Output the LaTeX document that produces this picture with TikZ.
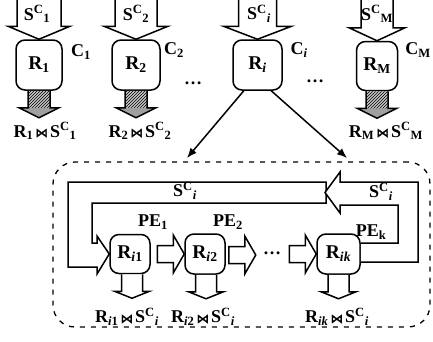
\documentclass[tikz,border=0pt]{standalone}
\usepackage{fontspec}
\setmainfont{Liberation Serif}
\newfontfamily\bowfont[FakeBold=2]{DejaVu Sans}
\usetikzlibrary{arrows.meta,patterns,calc}

% relation / stream notation
\newcommand\SCx[1]{S\textsuperscript{C}\textsubscript{#1}}
\newcommand\bow{{\bowfont\mdseries\fontsize{12.5}{12.5}\selectfont\,⋈\,}}

\tikzset{
  txt/.style={font=\bfseries\fontsize{18}{20}\selectfont, inner sep=0pt},
  rel/.style={draw, line width=1.5pt, rounded corners=9pt, inner sep=0pt,
              font=\bfseries\fontsize{19.5}{21}\selectfont},
  blk/.style={draw, line width=1.5pt, fill=white, line join=miter},
  thin arrow/.style={line width=1.5pt, -{Latex[length=10pt,width=8pt]}},
  grpbox/.style={draw, line width=1.3pt, dash pattern=on 5pt off 6pt,
                 rounded corners=22pt, inner sep=0pt},
  % incoming stream block arrow, tip at the origin
  pics/inarrow/.style 2 args={code={
    \draw[blk] (-#1,-42) -- (-#1,-13) -- (-#2,-13) -- (0,0)
               -- (#2,-13) -- (#1,-13) -- (#1,-42);}},
  % hatched result arrow, tail at the origin
  pics/outhatch/.style={code={
    \fill[gray!45] (-11,0) -- (-11,17) -- (-20,17) -- (0,27) -- (20,17) -- (11,17) -- (11,0) -- cycle;
    \fill[pattern=north east lines] (-11,0) -- (-11,17) -- (-20,17) -- (0,27) -- (20,17) -- (11,17) -- (11,0) -- cycle;
    \fill[gray!75] (-20,17) -- (0,27) -- (20,17) -- cycle;
    \draw[line width=1.5pt, line join=miter] (-11,0) -- (-11,17) -- (-20,17) -- (0,27)
               -- (20,17) -- (11,17) -- (11,0);}},
  % white result arrow, tail at the origin
  pics/outwhite/.style={code={
    \draw[blk] (-10.5,0) -- (-10.5,17) -- (-17.5,17) -- (0,24)
               -- (17.5,17) -- (10.5,17) -- (10.5,0);}},
  % pipeline block arrow, tip at the origin
  pics/pipe/.style={code={
    \draw[blk] (-27,-8.5) -- (-11,-8.5) -- (-11,-19) -- (0,0) -- (-11,19)
               -- (-11,8.5) -- (-27,8.5) -- cycle;}},
}

\begin{document}
\begin{tikzpicture}[x=1pt, y=-1pt]
\useasboundingbox (0,0) rectangle (433,341);

% ---------- clusters C_1 ... C_M ----------
\node[rel, minimum width=46pt, minimum height=50pt] (R1) at (39,65) {R\textsubscript{1}};
\node[rel, minimum width=48pt, minimum height=50pt] (R2) at (136,65) {R\textsubscript{2}};
\node[rel, minimum width=49pt, minimum height=50pt] (Ri) at (257.5,65) {R\textsubscript{\textit{i}}};
\node[rel, minimum width=41pt, minimum height=49pt] (RM) at (377,66) {R\textsubscript{M}};

\pic at (R1.north) {inarrow={22}{31}};
\pic at (R2.north) {inarrow={21}{32}};
\pic at (Ri.north) {inarrow={19}{34}};
\pic at (RM.north) {inarrow={16}{28}};

\node[txt] (s1) at (37,14) {\SCx{1}};
\node[txt] (s2) at (136,14) {\SCx{2}};
\node[txt] (si) at (259,14) {\SCx{\textit{i}}};
\node[txt] (sM) at (377,14) {\SCx{M}};

\node[txt] (c1) at (81,52) {C\textsubscript{1}};
\node[txt] (c2) at (174,50) {C\textsubscript{2}};
\node[txt] (ci) at (299,50) {C\textsubscript{\textit{i}}};
\node[txt] (cM) at (418,50) {C\textsubscript{M}};

\node[txt] (d1) at (193,83) {\dots};
\node[txt] (d2) at (315,81) {\dots};

\pic at (R1.south) {outhatch};
\pic at (R2.south) {outhatch};
\pic at (RM.south) {outhatch};

\node[txt] (o1) at (45,131) {R\textsubscript{1}\bow\SCx{1}};
\node[txt] (o2) at (140,131) {R\textsubscript{2}\bow\SCx{2}};
\node[txt] (oM) at (386,131) {R\textsubscript{M}\bow\SCx{M}};

% ---------- parallel join inside cluster C_i ----------
\node[grpbox, minimum width=377pt, minimum height=165pt] (grp) at (241.5,244.5) {};
\coordinate (inL) at (187,158);
\coordinate (inR) at (347,158);
\draw[thin arrow] (Ri.-118) -- (inL);
\draw[thin arrow] (Ri.-62) -- (inR);

\node[rel, minimum width=40pt, minimum height=39pt] (Ri1) at (130,254) {R\textsubscript{\textit{i}1}};
\node[rel, minimum width=40pt, minimum height=40pt] (Ri2) at (205,254) {R\textsubscript{\textit{i}2}};
\node[rel, minimum width=43pt, minimum height=40pt] (Rik) at (338.5,254) {R\textsubscript{\textit{ik}}};

% stream S^C_i circulating through the processing elements
\draw[blk] (326,203) -- (92,203) -- (92,243) -- (97,243) -- (97,236) -- (Ri1.west)
           -- (97,274) -- (97,267) -- (68,267) -- (68,182) -- (326,182) -- cycle;
\draw[blk] (Rik.east |- 0,243) -- (398,243) -- (398,205) -- (340,205) -- (340,213)
           -- (325,192.5) -- (340,172) -- (340,182) -- (418,182) -- (418,262)
           -- (Rik.east |- 0,262);

\node[txt] (sl) at (185,191) {\SCx{\textit{i}}};
\node[txt] (sr) at (381,192) {\SCx{\textit{i}}};

\pic at (Ri2.west) {pipe};
\coordinate (p2) at ($(Ri2.east)+(30,1)$);
\pic at (p2) {pipe};
\pic at (Rik.west) {pipe};
\node[txt] (d3) at (272,253) {\dots};

\node[txt] (pe1) at (153,222) {PE\textsubscript{1}};
\node[txt] (pe2) at (228,222) {PE\textsubscript{2}};
\node[txt] (pek) at (371,232) {PE\textsubscript{k}};

\pic at ($(Ri1.south)+(2,0)$) {outwhite};
\pic at ($(Ri2.south)+(1,0)$) {outwhite};
\pic at ($(Rik.south)+(0,0)$) {outwhite};

\node[txt] (r1) at (127,317) {R\textsubscript{\textit{i}1}\bow\SCx{\textit{i}}};
\node[txt] (r2) at (203,317) {R\textsubscript{\textit{i}2}\bow\SCx{\textit{i}}};
\node[txt] (rk) at (337,317) {R\textsubscript{\textit{ik}}\bow\SCx{\textit{i}}};
\end{tikzpicture}
\end{document}
